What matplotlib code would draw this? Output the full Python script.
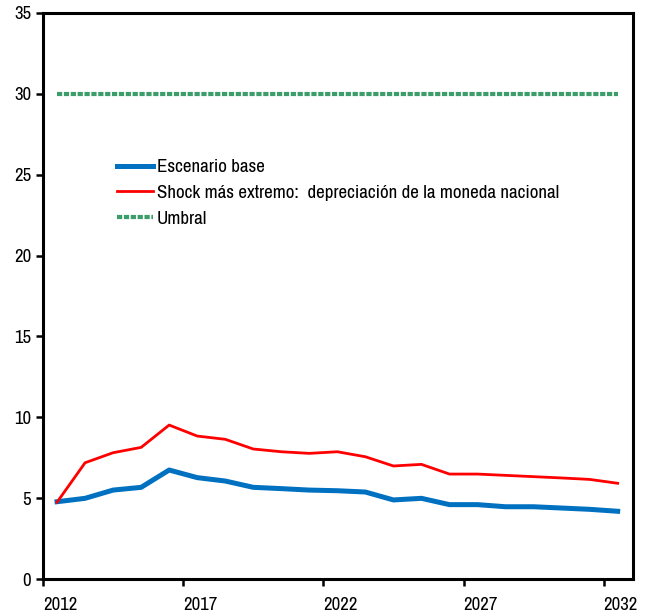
# Sostenibilidad de la deuda: escenario base vs shock extremo

import numpy as np
import matplotlib.pyplot as plt
from matplotlib import font_manager

# prefer a narrow face, like the original
fonts = font_manager.fontManager.ttflist
narrow = [f.name for f in fonts if "Narrow" in f.name or "Condensed" in f.name]
stretch_fonts = [f for f in fonts if str(f.stretch) in ("condensed", "semi-condensed")]
if narrow:
    plt.rcParams['font.family'] = [narrow[0], "DejaVu Sans"]
elif stretch_fonts:
    plt.rcParams['font.family'] = [stretch_fonts[0].name, "DejaVu Sans"]
    plt.rcParams['font.stretch'] = stretch_fonts[0].stretch
else:
    plt.rcParams['font.family'] = ["Liberation Sans", "DejaVu Sans"]

years = np.arange(2012, 2033)
base = [4.78, 4.99, 5.50, 5.67, 6.74, 6.27, 6.06, 5.67, 5.59, 5.50, 5.46,
        5.38, 4.89, 4.99, 4.60, 4.60, 4.47, 4.47, 4.39, 4.31, 4.19]
shock = [4.75, 7.19, 7.81, 8.14, 9.52, 8.84, 8.64, 8.04, 7.87, 7.77, 7.87,
         7.56, 6.99, 7.09, 6.49, 6.49, 6.41, 6.33, 6.25, 6.16, 5.92]
umbral = [30] * len(years)

tick_years = [2012, 2017, 2022, 2027, 2032]

fig = plt.figure(figsize=(6.52, 6.16), dpi=100)
ax = fig.add_axes([0.066, 0.060, 0.905, 0.919])

ax.plot(years, base, color="#0070C0", lw=3.6, label="Escenario base")
ax.plot(years, shock, color="#FF0000", lw=2.0,
        label="Shock más extremo:  depreciación de la moneda nacional")
ax.plot(years, umbral, color="#3A9D6A", lw=3.0, linestyle=(0, (1.25, 0.4)),
        dash_capstyle="butt", label="Umbral")

ax.set_ylim(0, 35)
ax.set_yticks(range(0, 36, 5))
ax.set_xlim(2011.5, 2032.55)
# category-style axis: ticks between years, labels next to the tick
ax.set_xticks([y - 0.5 for y in tick_years])
ax.set_xticklabels([str(y) for y in tick_years])
for lab in ax.get_xticklabels():
    lab.set_horizontalalignment("left")

for s in ax.spines.values():
    s.set_linewidth(2.2)
ax.tick_params(axis="both", direction="out", length=5, width=1.8, labelsize=13.5)
ax.tick_params(axis="x", pad=8)

ax.legend(loc="upper left", bbox_to_anchor=(0.125, 0.742), frameon=False,
          fontsize=13.7, handlelength=1.9, handletextpad=0.2, labelspacing=0.5,
          borderpad=0, borderaxespad=0)

fig.savefig("out.png", dpi=100)
